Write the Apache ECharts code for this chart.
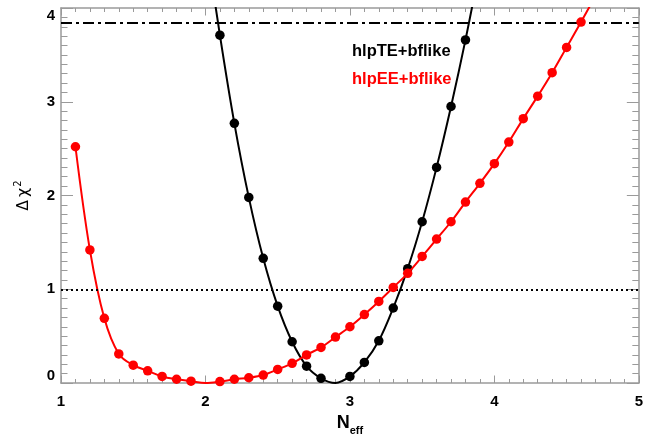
<!DOCTYPE html>
<html>
<head>
<meta charset="utf-8">
<script src="https://cdn.jsdelivr.net/npm/echarts@6/dist/echarts.min.js"></script>
<style>html,body{margin:0;padding:0;background:#fff}#c{width:646px;height:441px}</style>
</head>
<body>
<div id="c"></div>
<script>
// ---- data ----
const xTicks = [1, 2, 3, 4, 5];
const yTicks = [0, 1, 2, 3, 4];
const seriesNames = ['hlpTE+bflike', 'hlpEE+bflike'];

// hlpTE+bflike: measured points
const teX = [2.1, 2.2, 2.3, 2.4, 2.5, 2.6, 2.7, 2.8, 3.0, 3.1, 3.2, 3.3, 3.4, 3.5, 3.6, 3.7, 3.8];
const teY = [3.71, 2.77, 1.98, 1.33, 0.82, 0.44, 0.18, 0.05, 0.07, 0.22, 0.45, 0.80, 1.22, 1.72, 2.30, 2.95, 3.66];
// hlpTE+bflike: fitted curve
const teCurveX = [2.0, 2.1, 2.2, 2.3, 2.4, 2.5, 2.6, 2.7, 2.8, 2.9, 3.0, 3.1, 3.2, 3.3, 3.4, 3.5, 3.6, 3.7, 3.8, 3.9];
const teCurveY = [4.75, 3.71, 2.77, 1.98, 1.33, 0.82, 0.44, 0.18, 0.05, 0.0, 0.07, 0.22, 0.45, 0.80, 1.22, 1.72, 2.30, 2.95, 3.66, 4.44];

// hlpEE+bflike: measured points
const eeX = [1.1, 1.2, 1.3, 1.4, 1.5, 1.6, 1.7, 1.8, 1.9, 2.1, 2.2, 2.3, 2.4, 2.5, 2.6, 2.7, 2.8, 2.9, 3.0, 3.1, 3.2, 3.3, 3.4, 3.5, 3.6, 3.7, 3.8, 3.9, 4.0, 4.1, 4.2, 4.3, 4.4, 4.5, 4.6];
const eeY = [2.52, 1.42, 0.69, 0.31, 0.19, 0.13, 0.07, 0.04, 0.02, 0.015, 0.04, 0.056, 0.085, 0.145, 0.21, 0.30, 0.38, 0.49, 0.60, 0.73, 0.87, 1.02, 1.17, 1.35, 1.535, 1.72, 1.93, 2.13, 2.34, 2.57, 2.82, 3.06, 3.31, 3.58, 3.85];
// hlpEE+bflike: fitted curve
const eeCurveX = [1.1, 1.2, 1.3, 1.4, 1.5, 1.6, 1.7, 1.8, 1.9, 2.0, 2.1, 2.2, 2.3, 2.4, 2.5, 2.6, 2.7, 2.8, 2.9, 3.0, 3.1, 3.2, 3.3, 3.4, 3.5, 3.6, 3.7, 3.8, 3.9, 4.0, 4.1, 4.2, 4.3, 4.4, 4.5, 4.6, 4.7];
const eeCurveY = [2.52, 1.42, 0.69, 0.31, 0.19, 0.13, 0.07, 0.04, 0.02, 0.0, 0.015, 0.04, 0.056, 0.085, 0.145, 0.21, 0.30, 0.38, 0.49, 0.60, 0.73, 0.87, 1.02, 1.17, 1.35, 1.535, 1.72, 1.93, 2.13, 2.34, 2.57, 2.82, 3.06, 3.31, 3.58, 3.85, 4.13];

// reference levels
const level95 = 3.84;
const level68 = 1.0;

// ---- chart ----
const zip = (a, b) => a.map((v, i) => [v, b[i]]);
const axisColor = '#9a9a9a';
const labelFont = { fontFamily: 'Liberation Sans', fontWeight: 'bold', fontSize: 15, color: '#000' };

function xAxisCfg(pos, showLabel) {
  return {
    type: 'value', position: pos, min: xTicks[0], max: xTicks[xTicks.length - 1], interval: 1,
    axisLine: { show: true, onZero: false, lineStyle: { color: axisColor, width: 1.5 } },
    axisTick: { show: true, inside: true, length: 7.5, lineStyle: { color: axisColor, width: 1 } },
    minorTick: { show: true, splitNumber: 10, length: 4, lineStyle: { color: axisColor, width: 1 } },
    splitLine: { show: false },
    axisLabel: Object.assign({ show: showLabel, margin: 11 }, labelFont)
  };
}
function yAxisCfg(pos, showLabel) {
  return {
    type: 'value', position: pos, min: yTicks[0], max: yTicks[yTicks.length - 1], interval: 1,
    axisLine: { show: true, onZero: false, lineStyle: { color: axisColor, width: 1.5 } },
    axisTick: { show: true, inside: true, length: 12, lineStyle: { color: axisColor, width: 1 } },
    minorTick: { show: true, splitNumber: 10, length: 6.5, lineStyle: { color: axisColor, width: 1 } },
    splitLine: { show: false },
    axisLabel: Object.assign({ show: showLabel, margin: 6, verticalAlignMinLabel: 'bottom', verticalAlignMaxLabel: 'top' }, labelFont)
  };
}

const xb = xAxisCfg('bottom', true);
xb.name = '{n|N}{s|eff}';
xb.nameLocation = 'middle';
xb.nameGap = 28;
xb.nameTextStyle = {
  rich: {
    n: { fontFamily: 'Liberation Sans', fontWeight: 'bold', fontSize: 18, color: '#000' },
    s: { fontFamily: 'Liberation Sans', fontWeight: 'bold', fontSize: 11, color: '#000', padding: [14, 0, 0, 0] }
  }
};
const yl = yAxisCfg('left', true);
yl.name = '{d|Δ} {c|χ}{p|2}';
yl.nameLocation = 'middle';
yl.nameRotate = 90;
yl.nameGap = 26;
yl.nameTextStyle = {
  rich: {
    d: { fontFamily: 'DejaVu Sans', fontSize: 15, color: '#000' },
    c: { fontFamily: 'DejaVu Sans', fontSize: 16, color: '#000' },
    p: { fontFamily: 'DejaVu Sans', fontSize: 10, color: '#000', padding: [0, 0, 12, 1] }
  }
};

const chart = echarts.init(document.getElementById('c'), null, { renderer: 'canvas' });
chart.setOption({
  animation: false,
  backgroundColor: '#fff',
  grid: { left: 61, right: 4, top: 8, bottom: 57 },
  xAxis: [xb, xAxisCfg('top', false)],
  yAxis: [yl, yAxisCfg('right', false)],
  legend: {
    orient: 'vertical', left: 347, top: 43, padding: 0, itemGap: 11,
    itemWidth: 0, itemHeight: 0, selectedMode: false,
    textStyle: { fontFamily: 'Liberation Sans', fontWeight: 'bold', fontSize: 16.5 },
    data: [
      { name: seriesNames[0], icon: 'rect', textStyle: { color: '#000' } },
      { name: seriesNames[1], icon: 'rect', textStyle: { color: '#ff0000' } }
    ]
  },
  series: [
    {
      name: seriesNames[0], type: 'line', data: zip(teCurveX, teCurveY), smooth: 0.35,
      showSymbol: false, clip: true, z: 2,
      lineStyle: { color: '#000', width: 2 }, itemStyle: { color: '#000' },
      markLine: {
        silent: true, symbol: 'none', label: { show: false },
        data: [
          { yAxis: level95, lineStyle: { color: '#000', width: 2, type: [11, 4, 3, 4] } },
          { yAxis: level68, lineStyle: { color: '#000', width: 2, type: [2, 3] } }
        ]
      }
    },
    {
      name: seriesNames[0], type: 'scatter', data: zip(teX, teY), symbolSize: 9.5, z: 3,
      itemStyle: { color: '#000', opacity: 1 }
    },
    {
      name: seriesNames[1], type: 'line', data: zip(eeCurveX, eeCurveY), smooth: 0.35,
      showSymbol: false, clip: true, z: 4,
      lineStyle: { color: '#ff0000', width: 2 }, itemStyle: { color: '#ff0000' }
    },
    {
      name: seriesNames[1], type: 'scatter', data: zip(eeX, eeY), symbolSize: 9.5, z: 5,
      itemStyle: { color: '#ff0000', opacity: 1 }
    }
  ]
});
</script>
</body>
</html>
